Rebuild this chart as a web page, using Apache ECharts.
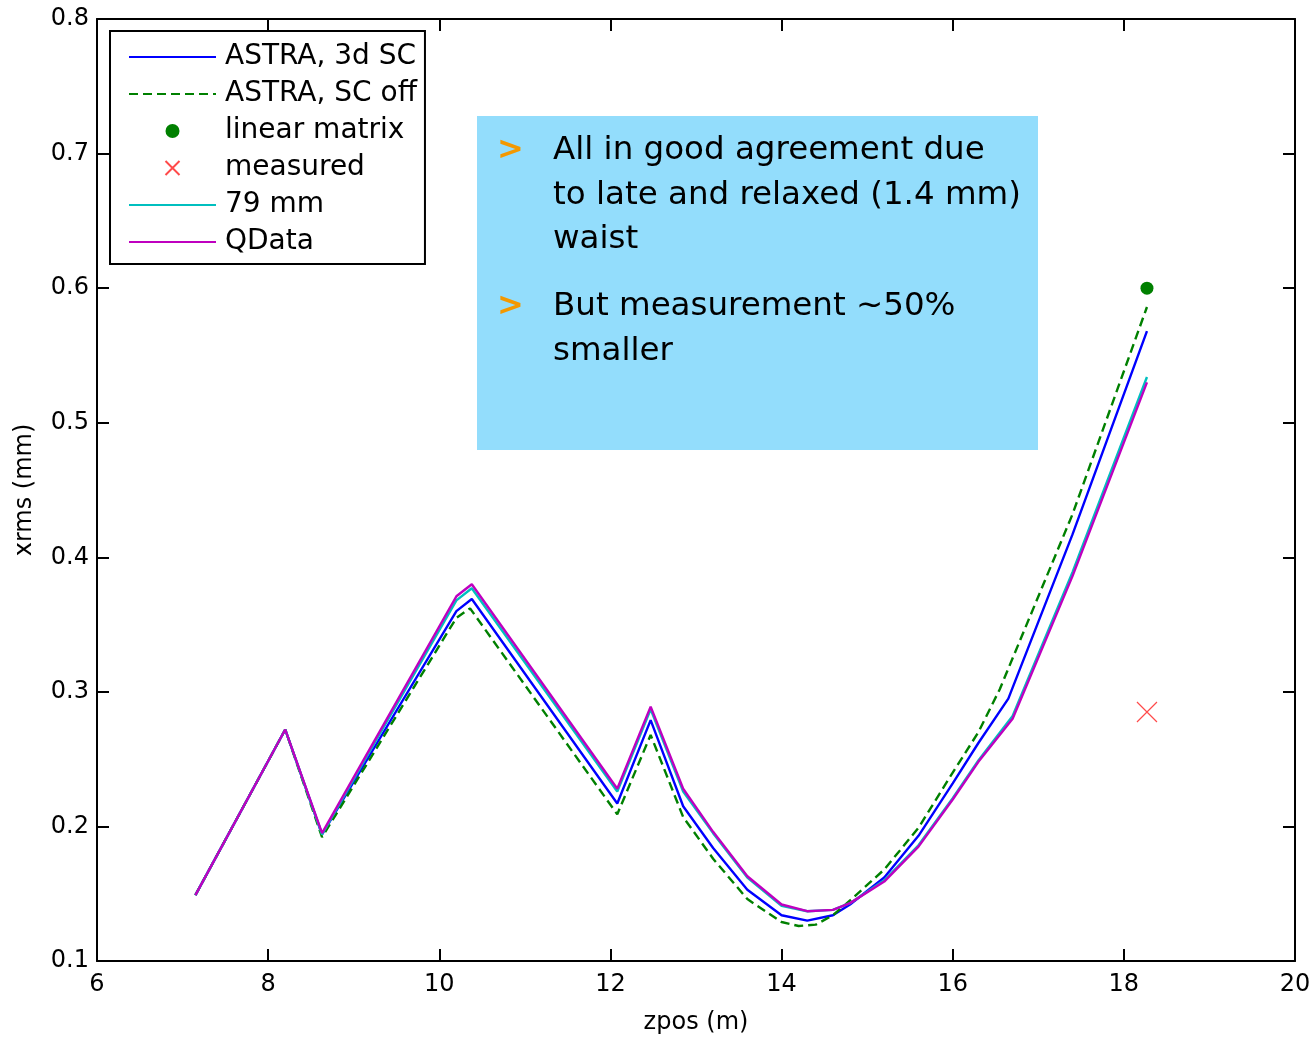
<!DOCTYPE html>
<html>
<head>
<meta charset="utf-8">
<script src="https://cdn.jsdelivr.net/npm/echarts@6/dist/echarts.min.js"></script>
<style>
  html, body { margin: 0; padding: 0; background: #fff; }
  #chart { width: 1314px; height: 1040px; }
</style>
</head>
<body>
<div id="chart"></div>
<script>
// x positions (zpos, m) and xrms values (mm)
var zSC = [7.15, 8.2, 8.63, 10.2, 10.38, 12.08, 12.47, 12.85, 13.2, 13.6, 14.0, 14.3, 14.6, 14.8, 15.2, 15.6, 16.0, 16.3, 16.65, 17.4, 18.27];
var astra3d = [0.149, 0.272, 0.194, 0.360, 0.369, 0.217, 0.279, 0.215, 0.184, 0.153, 0.134, 0.130, 0.134, 0.142, 0.162, 0.193, 0.232, 0.262, 0.295, 0.417, 0.568];

var zOff = [7.15, 8.2, 8.63, 10.2, 10.36, 12.08, 12.47, 12.85, 13.2, 13.6, 14.0, 14.2, 14.4, 14.6, 14.8, 15.2, 15.6, 16.0, 16.3, 16.55, 17.4, 18.27];
var astraOff = [0.149, 0.272, 0.192, 0.355, 0.362, 0.209, 0.268, 0.207, 0.176, 0.146, 0.129, 0.126, 0.127, 0.134, 0.145, 0.168, 0.199, 0.240, 0.270, 0.302, 0.432, 0.586];

var zQ = [7.15, 8.2, 8.63, 10.2, 10.38, 12.08, 12.47, 12.85, 13.2, 13.6, 14.0, 14.3, 14.6, 14.8, 15.2, 15.6, 16.0, 16.3, 16.7, 17.4, 18.27];
var mm79 = [0.149, 0.272, 0.194, 0.368, 0.377, 0.226, 0.287, 0.226, 0.195, 0.162, 0.141, 0.137, 0.138, 0.143, 0.160, 0.186, 0.221, 0.249, 0.282, 0.389, 0.534];
var qdata = [0.149, 0.272, 0.195, 0.371, 0.380, 0.228, 0.289, 0.228, 0.196, 0.163, 0.142, 0.137, 0.138, 0.143, 0.159, 0.185, 0.220, 0.248, 0.280, 0.386, 0.530];

var linearMatrix = [[18.27, 0.600]];
var measured = [[18.27, 0.285]];

var seriesNames = ["ASTRA, 3d SC", "ASTRA, SC off", "linear matrix", "measured", "79 mm", "QData"];
var noteLines1 = ["All in good agreement due", "to late and relaxed (1.4 mm)", "waist"];
var noteLines2 = ["But measurement ~50%", "smaller"];

function pairs(xs, ys) {
  var out = [];
  for (var i = 0; i < xs.length; i++) {
    out.push([xs[i], ys[i]]);
  }
  return out;
}

var font = "DejaVu Sans, sans-serif";

function lineSeries(name, data, color, dashed) {
  return {
    name: name,
    type: "line",
    data: data,
    symbol: "none",
    smooth: false,
    lineStyle: { color: color, width: 2.4, type: dashed ? [9, 5] : "solid" },
    itemStyle: { color: color },
    z: 3
  };
}

// text box graphic
var boxLeft = 477, boxTop = 116;
var graphics = [{
  type: "rect",
  shape: { x: boxLeft, y: boxTop, width: 561, height: 334 },
  style: { fill: "#93ddfc" },
  z: 1
}];
function addBlock(lines, top) {
  graphics.push({
    type: "text",
    x: 497, y: top,
    style: { text: ">", font: "bold 32px " + font, fill: "#f39800", textVerticalAlign: "middle" },
    z: 2
  });
  for (var i = 0; i < lines.length; i++) {
    graphics.push({
      type: "text",
      x: 553, y: top + i * 44.5,
      style: { text: lines[i], font: "32.5px " + font, fill: "#000", textVerticalAlign: "middle" },
      z: 2
    });
  }
}
addBlock(noteLines1, 151);
addBlock(noteLines2, 307);

var axisCommon = {
  axisLine: { show: true, onZero: false, lineStyle: { color: "#000", width: 2 } },
  axisTick: { show: true, inside: true, length: 12, lineStyle: { color: "#000", width: 2 } },
  splitLine: { show: false }
};

// legend entries: hide the marker on line entries
var legendData = seriesNames.map(function (n, i) {
  if (i === 2 || i === 3) return { name: n };
  return { name: n, itemStyle: { opacity: 0 } };
});

var chart = echarts.init(document.getElementById("chart"));
chart.setOption({
  animation: false,
  backgroundColor: "#fff",
  grid: { left: 97, right: 19, top: 19, bottom: 78 },
  legend: {
    orient: "vertical",
    left: 110, top: 31,
    padding: [12, 8, 8, 18],
    itemWidth: 87, itemHeight: 14, itemGap: 9,
    borderColor: "#000", borderWidth: 2, backgroundColor: "#fff",
    data: legendData,
    textStyle: { fontFamily: font, fontSize: 28, color: "#000", lineHeight: 26, padding: [0, 0, 0, 4] },
    z: 10
  },
  xAxis: [
    Object.assign({}, axisCommon, {
      type: "value", min: 6, max: 20, interval: 2, position: "bottom",
      name: "zpos (m)", nameLocation: "middle", nameGap: 50,
      nameTextStyle: { fontFamily: font, fontSize: 24, color: "#000" },
      axisLabel: { fontFamily: font, fontSize: 24, color: "#000", margin: 12 }
    }),
    Object.assign({}, axisCommon, {
      type: "value", min: 6, max: 20, interval: 2, position: "top",
      axisLabel: { show: false }
    })
  ],
  yAxis: [
    Object.assign({}, axisCommon, {
      type: "value", min: 0.1, max: 0.8, interval: 0.1, position: "left",
      name: "xrms (mm)", nameLocation: "middle", nameGap: 60,
      nameTextStyle: { fontFamily: font, fontSize: 24, color: "#000" },
      axisLabel: { fontFamily: font, fontSize: 24, color: "#000", margin: 8,
        formatter: function (v) { return v.toFixed(1); } }
    }),
    Object.assign({}, axisCommon, {
      type: "value", min: 0.1, max: 0.8, interval: 0.1, position: "right",
      axisLabel: { show: false }
    })
  ],
  graphic: graphics,
  series: [
    lineSeries(seriesNames[0], pairs(zSC, astra3d), "#0000ff", false),
    lineSeries(seriesNames[1], pairs(zOff, astraOff), "#008000", true),
    {
      name: seriesNames[2], type: "scatter", data: linearMatrix,
      symbol: "circle", symbolSize: 13,
      itemStyle: { color: "#008000", opacity: 1 }, z: 4
    },
    {
      name: seriesNames[3], type: "scatter", data: measured,
      symbol: "path://M0,0L20,20M20,0L0,20", symbolSize: 20,
      itemStyle: { color: "none", borderColor: "#ff4a4a", borderWidth: 1.2, opacity: 1 }, z: 4
    },
    lineSeries(seriesNames[4], pairs(zQ, mm79), "#00bfbf", false),
    lineSeries(seriesNames[5], pairs(zQ, qdata), "#bf00bf", false)
  ]
});
</script>
</body>
</html>
